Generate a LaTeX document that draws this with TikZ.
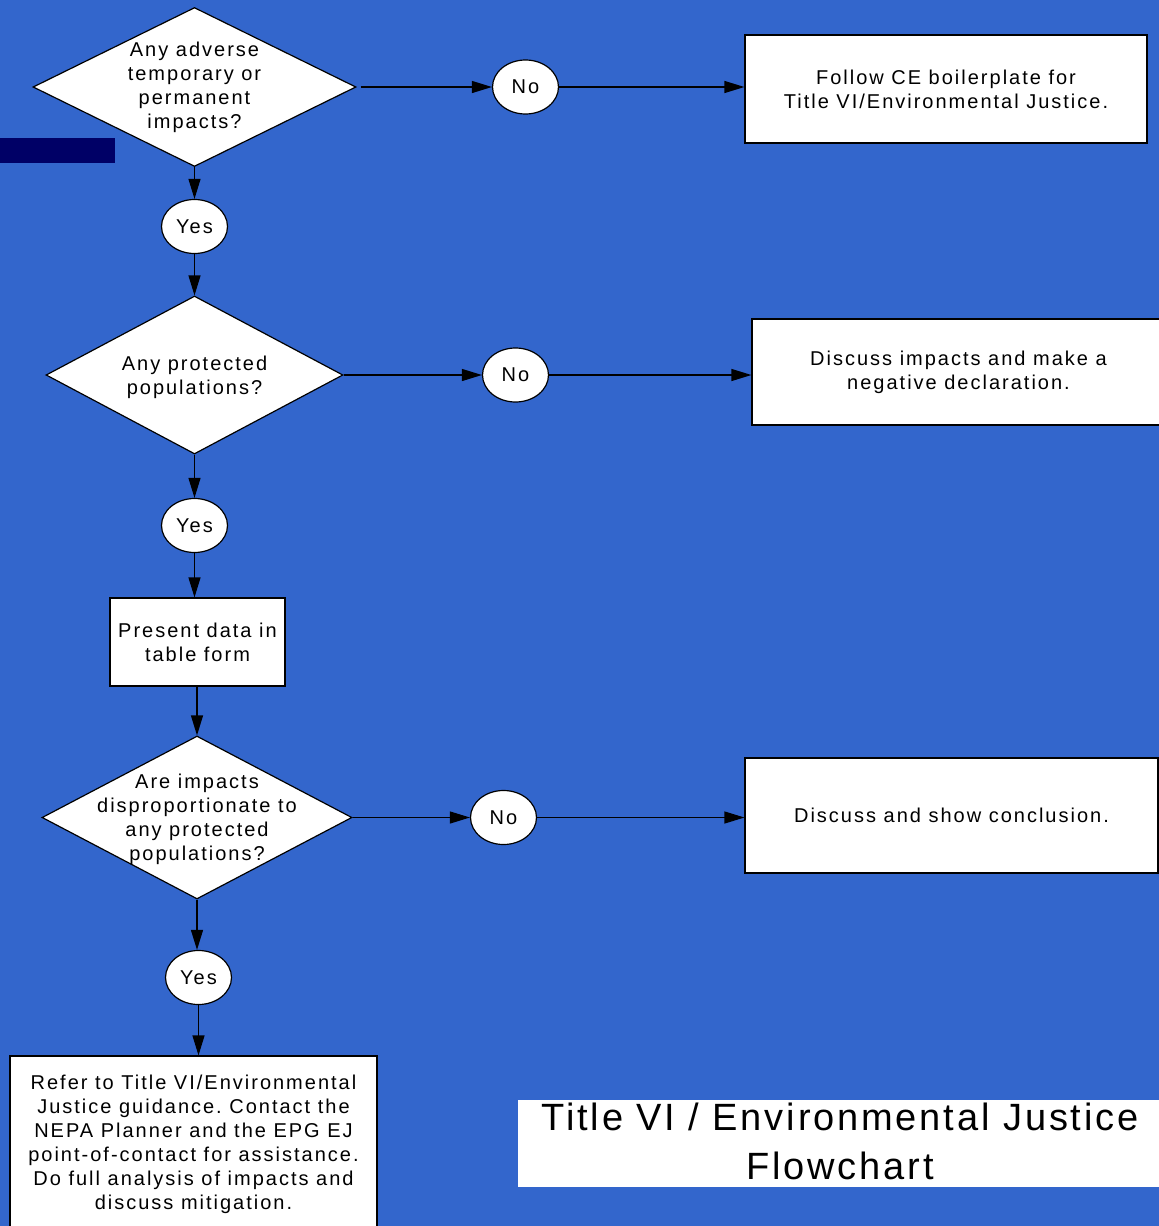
\documentclass[tikz,border=0pt]{standalone}
\usepackage{fontspec}
\setmainfont[LetterSpace=10]{Liberation Sans}
\newfontfamily\titlefont[LetterSpace=7.5]{Liberation Sans}
\usetikzlibrary{shapes.geometric,arrows.meta}
\definecolor{bg}{HTML}{3366CC}
\definecolor{navy}{HTML}{000066}
\frenchspacing
\begin{document}
\begin{tikzpicture}[x=1pt,y=-1pt,
  dec/.style={diamond, draw=black, fill=white, line width=1.2pt, inner sep=0pt},
  yn/.style={ellipse, draw=black, fill=white, line width=1.2pt, minimum width=66pt, minimum height=54pt, inner sep=0pt, font=\fontsize{20}{24}\selectfont},
  proc/.style={rectangle, draw=black, fill=white, line width=1.2pt, inner sep=0pt, align=center, font=\fontsize{20}{24}\selectfont},
  txt/.style={align=center, inner sep=0pt, font=\fontsize{20}{24}\selectfont},
  arr/.style={-{Triangle[length=20pt,width=12pt]}, line width=1.2pt}]
\useasboundingbox (0,0) rectangle (1159,1226);
\fill[bg] (0,0) rectangle (1159,1226);
\fill[navy] (0,138) rectangle (115,163);

% decisions
\node[dec, minimum width=323pt, minimum height=159pt] (d1) at (194.5,87) {};
\node[txt] (d1t) at (194.5,87) {Any adverse\\temporary or\\permanent\\impacts?};
\node[dec, minimum width=297pt, minimum height=158pt] (d2) at (194.5,375) {};
\node[txt] (d2t) at (194.5,377) {Any protected\\populations?};
\node[dec, minimum width=310pt, minimum height=163pt] (d3) at (197,817.5) {};
\node[txt] (d3t) at (197,819) {Are impacts\\disproportionate to\\any protected\\populations?};

% yes / no
\node[yn] (n1) at (525.5,87) {No};
\node[yn] (y1) at (194.5,226.5) {Yes};
\node[yn] (n2) at (515.5,375) {No};
\node[yn] (y2) at (194.5,525.5) {Yes};
\node[yn] (n3) at (503.5,817.5) {No};
\node[yn] (y3) at (198.5,977.5) {Yes};

% boxes
\node[proc, minimum width=402pt, minimum height=108pt] (b1) at (946,89) {Follow CE boilerplate for\\Title VI/Environmental Justice.};
\node[proc, minimum width=413pt, minimum height=106pt] (b2) at (958.5,372) {Discuss impacts and make a\\negative declaration.};
\node[proc, minimum width=175pt, minimum height=88pt] (b3) at (197.5,642) {Present data in\\table form};
\node[proc, minimum width=413pt, minimum height=115pt] (b4) at (951.5,815.5) {Discuss and show conclusion.};
\node[proc, minimum width=367pt, minimum height=172pt] (b5) at (193.5,1142) {};
\node[txt] (b5t) at (193.5,1144) {Refer to Title VI/Environmental\\Justice guidance. Contact the\\NEPA Planner and the EPG EJ\\point-of-contact for assistance.\\Do full analysis of impacts and\\discuss mitigation.};

% title
\node[rectangle, fill=white, minimum width=641pt, minimum height=87pt, inner sep=0pt] (title) at (838.5,1143.5) {};
\node[align=center, inner sep=0pt, font=\titlefont\fontsize{38}{49}\selectfont] (titlet) at (840,1141.5) {Title VI / Environmental Justice\\Flowchart};

% connectors
\draw[arr] ([xshift=4pt]d1.east) -- (n1.west);
\draw[arr] (n1.east) -- (n1.east -| b1.west);
\draw[arr] (d2.east) -- (n2.west);
\draw[arr] (n2.east) -- (n2.east -| b2.west);
\draw[arr] (d3.east) -- (n3.west);
\draw[arr] (n3.east) -- (n3.east -| b4.west);
\draw[arr] (d1.south) -- (y1.north);
\draw[arr] (y1.south) -- (d2.north);
\draw[arr] (d2.south) -- (y2.north);
\draw[arr] (y2.south) -- (y2.south |- b3.north);
\draw[arr] (d3.north |- b3.south) -- (d3.north);
\draw[arr] (d3.south) -- (d3.south |- y3.north);
\draw[arr] (y3.south) -- (y3.south |- b5.north);
\end{tikzpicture}
\end{document}
